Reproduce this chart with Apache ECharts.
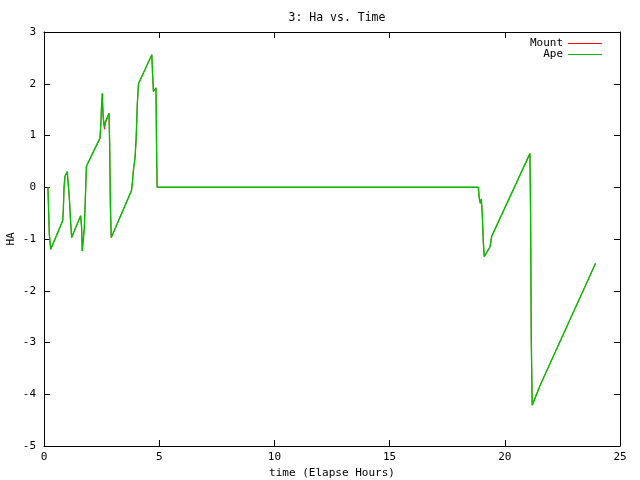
<!DOCTYPE html>
<html>
<head>
<meta charset="utf-8">
<script src="https://cdn.jsdelivr.net/npm/echarts@6/dist/echarts.min.js"></script>
<style>html,body{margin:0;padding:0;background:#fff}#c{width:640px;height:480px}</style>
</head>
<body>
<div id="c"></div>
<script>
const time = [0.17,0.19,0.23,0.29,0.81,0.84,0.87,0.91,1.01,1.04,1.10,1.16,1.20,1.59,1.63,1.66,1.72,1.75,1.81,1.84,1.92,2.43,2.47,2.50,2.53,2.54,2.57,2.62,2.67,2.82,2.85,2.88,2.92,3.80,3.84,3.89,3.95,4.00,4.05,4.10,4.68,4.71,4.75,4.86,4.88,4.91,18.85,18.89,18.94,18.98,19.02,19.07,19.11,19.36,19.43,21.09,21.12,21.15,21.19,21.53,23.94];
const mountHA = [0,-0.30,-0.90,-1.20,-0.65,-0.43,0,0.21,0.30,0.13,-0.21,-0.70,-0.97,-0.55,-0.76,-1.23,-1.26,-0.79,-0.02,0.40,0.48,0.95,1.24,1.59,1.81,1.66,1.35,1.12,1.24,1.43,0.84,-0.34,-0.97,-0.06,0.11,0.37,0.56,0.95,1.61,2.00,2.56,2.21,1.85,1.92,0.97,0,0,-0.21,-0.31,-0.23,-0.49,-1.08,-1.34,-1.15,-0.95,0.65,-0.55,-2.99,-4.21,-3.83,-1.47];
const apeHA = [0,-0.30,-0.90,-1.20,-0.65,-0.43,0,0.21,0.30,0.13,-0.21,-0.70,-0.97,-0.55,-0.76,-1.23,-1.26,-0.79,-0.02,0.40,0.48,0.95,1.24,1.59,1.81,1.66,1.35,1.17,1.27,1.43,0.84,-0.34,-0.97,-0.06,0.11,0.37,0.56,0.95,1.61,2.00,2.56,2.21,1.85,1.92,0.97,0,0,-0.21,-0.31,-0.23,-0.49,-1.08,-1.34,-1.15,-0.95,0.65,-0.55,-2.99,-4.21,-3.83,-1.47];
const xTicks = {min: 0, max: 25, interval: 5};
const yTicks = {min: -5, max: 3, interval: 1};

const FONT = 'DejaVu Sans Mono';
const chart = echarts.init(document.getElementById('c'), null, {renderer: 'canvas'});
function axis(extra) {
  return Object.assign({
    type: 'value',
    axisLine: {show: true, onZero: false, lineStyle: {color: '#000', width: 1}},
    axisTick: {show: true, inside: true, length: 6, lineStyle: {color: '#000'}},
    splitLine: {show: false},
    axisLabel: {color: '#000', fontFamily: FONT, fontSize: 11}
  }, extra);
}
chart.setOption({
  animation: false,
  backgroundColor: '#fff',
  title: {
    text: '3: Ha vs. Time', left: 332, top: 7, textAlign: 'center',
    textStyle: {fontFamily: FONT, fontSize: 11.5, fontWeight: 'normal', color: '#000'}
  },
  legend: {
    orient: 'vertical', right: 33, top: 33, align: 'right',
    itemWidth: 34, itemHeight: 1.2, itemGap: 0, icon: 'rect',
    textStyle: {fontFamily: FONT, fontSize: 11, color: '#000', lineHeight: 11},
    data: ['Mount', 'Ape']
  },
  graphic: [{
    type: 'text', x: 11, y: 239, rotation: Math.PI / 2,
    style: {text: 'HA', fontFamily: FONT, fontSize: 11, fill: '#000', align: 'center', verticalAlign: 'middle'}
  }],
  grid: {left: 44, right: 20, top: 32, bottom: 34, containLabel: false, outerBoundsMode: 'none'},
  xAxis: [
    axis({
      min: xTicks.min, max: xTicks.max, interval: xTicks.interval, position: 'bottom',
      name: 'time (Elapse Hours)', nameLocation: 'middle', nameGap: 22, nameMoveOverlap: false,
      nameTextStyle: {fontFamily: FONT, fontSize: 11, color: '#000'},
      axisLabel: {color: '#000', fontFamily: FONT, fontSize: 11, margin: 6}
    }),
    axis({
      min: xTicks.min, max: xTicks.max, interval: xTicks.interval, position: 'top',
      axisLabel: {show: false}
    })
  ],
  yAxis: [
    axis({
      min: yTicks.min, max: yTicks.max, interval: yTicks.interval, position: 'left',
      axisLabel: {color: '#000', fontFamily: FONT, fontSize: 11, margin: 8}
    }),
    axis({
      min: yTicks.min, max: yTicks.max, interval: yTicks.interval, position: 'right',
      axisLabel: {show: false}
    })
  ],
  series: [
    {
      name: 'Mount', type: 'line', showSymbol: false, symbol: 'none',
      data: time.map((t, i) => [t, mountHA[i]]),
      lineStyle: {color: '#ff0000', width: 0.8}, itemStyle: {color: '#ff0000'}
    },
    {
      name: 'Ape', type: 'line', showSymbol: false, symbol: 'none',
      data: time.map((t, i) => [t, apeHA[i]]),
      lineStyle: {color: '#00c000', width: 1.4}, itemStyle: {color: '#00c000'}
    }
  ]
});
</script>
</body>
</html>
